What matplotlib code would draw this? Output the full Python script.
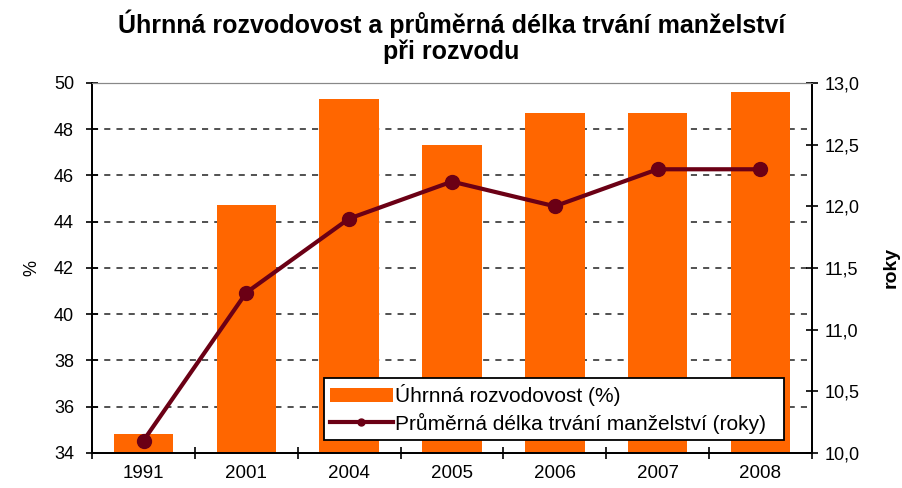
import matplotlib.pyplot as plt
from matplotlib.ticker import FuncFormatter, FixedLocator
import numpy as np

plt.rcParams['font.family'] = ['Liberation Sans', 'DejaVu Sans']

years = ['1991', '2001', '2004', '2005', '2006', '2007', '2008']
rozvodovost = [34.8, 44.7, 49.3, 47.3, 48.7, 48.7, 49.6]  # %
delka = [10.1, 11.3, 11.9, 12.2, 12.0, 12.3, 12.3]  # roky

x = np.arange(len(years))

fig = plt.figure(figsize=(9.03, 4.88), dpi=100)
ax = fig.add_axes([0.102, 0.072, 0.797, 0.758])
ax2 = ax.twinx()

bars = ax.bar(x, rozvodovost, width=0.58, color='#FF6600', zorder=2,
              label='Úhrnná rozvodovost (%)')
ax.set_ylim(34, 50)
ax.set_xlim(-0.5, len(years) - 0.5)
ax.set_yticks(range(34, 51, 2))
for y in range(36, 50, 2):
    ax.axhline(y, color='#222222', lw=1.1, ls=(0, (4, 4)), zorder=1)

line, = ax2.plot(x, delka, color='#6B0015', lw=3, marker='o', markersize=10,
                 zorder=3, label='Průměrná délka trvání manželství (roky)')
ax2.set_ylim(10, 13)
ax2.set_yticks(np.arange(10, 13.01, 0.5))
ax2.yaxis.set_major_formatter(FuncFormatter(lambda v, p: f'{v:.1f}'.replace('.', ',')))

ax.set_xticks(x)
ax.set_xticklabels(years)
ax.xaxis.set_minor_locator(FixedLocator(np.arange(-0.5, len(years), 1.0)))
ax.tick_params(axis='x', which='major', length=0, pad=9, labelsize=13.5)
ax.tick_params(axis='x', which='minor', length=8, direction='inout', width=1.2)
ax.tick_params(axis='y', length=8, direction='inout', width=1.2, labelsize=13, pad=9)
ax2.tick_params(axis='y', length=8, direction='inout', width=1.2, labelsize=13, pad=5)

for a in (ax, ax2):
    a.spines['top'].set_color('#888888')
    a.spines['left'].set_linewidth(1.3)
    a.spines['right'].set_linewidth(1.3)
    a.spines['bottom'].set_linewidth(1.3)

ax.set_ylabel('%', fontsize=13, labelpad=10)
ax2.set_ylabel('roky', fontsize=14, fontweight='bold', labelpad=17)

fig.suptitle('Úhrnná rozvodovost a průměrná délka trvání manželství\npři rozvodu',
             fontsize=18, fontweight='bold', y=0.98, linespacing=1.05)

ax2.set_zorder(ax.get_zorder() + 1)
ax2.patch.set_visible(False)

leg = ax2.legend([bars, line], [bars.get_label(), line.get_label()],
                 loc='lower left', bbox_to_anchor=(0.322, 0.035, 0.64, 0.18),
                 mode='expand', fontsize=15, frameon=True, fancybox=False,
                 edgecolor='black', framealpha=1, borderaxespad=0,
                 handlelength=3.0, handletextpad=0.1, borderpad=0.3,
                 labelspacing=0.3, markerscale=0.5)
leg.get_frame().set_linewidth(1.3)

fig.savefig('out.png', dpi=100)
